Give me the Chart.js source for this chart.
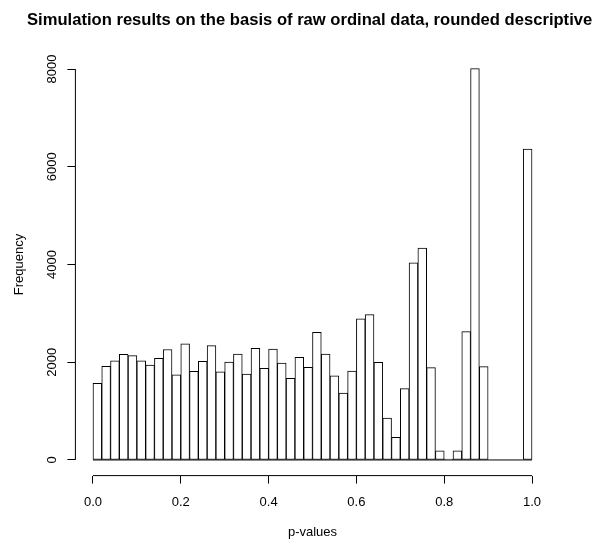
<!DOCTYPE html>
<html>
<head>
<meta charset="utf-8">
<title>Simulation results</title>
<script src="https://cdn.jsdelivr.net/npm/chart.js@4"></script>
<style>
  body { margin: 0; background: #fff; }
  canvas { display: block; }
</style>
</head>
<body>
<canvas id="histChart" width="592" height="542"></canvas>
<script>
// Titolo e assi
const chartTitle = "Simulation results on the basis of raw ordinal data, rounded descriptive";
const xTitle = "p-values";
const yTitle = "Frequency";

// Inizio di ogni classe (larghezza 0.02)
const binStarts = [
    0.00, 0.02, 0.04, 0.06, 0.08, 0.10, 0.12, 0.14, 0.16, 0.18,
    0.20, 0.22, 0.24, 0.26, 0.28, 0.30, 0.32, 0.34, 0.36, 0.38,
    0.40, 0.42, 0.44, 0.46, 0.48, 0.50, 0.52, 0.54, 0.56, 0.58,
    0.60, 0.62, 0.64, 0.66, 0.68, 0.70, 0.72, 0.74, 0.76, 0.78,
    0.80, 0.82, 0.84, 0.86, 0.88, 0.90, 0.92, 0.94, 0.96, 0.98
];
const binWidth = 0.02;

// Frequenze
const counts = [
    1570, 1915, 2030, 2160, 2135, 2030, 1940, 2080, 2260, 1740,
    2375, 1815, 2020, 2340, 1805, 2005, 2165, 1760, 2285, 1875,
    2270, 1985, 1670, 2100, 1895, 2610, 2165, 1720, 1370, 1820,
    2890, 2975, 2000, 855, 465, 1460, 4035, 4335, 1890, 185,
    20, 185, 2625, 8010, 1910, 0, 0, 0, 0, 6360
];

const xTicks = [0, 0.2, 0.4, 0.6, 0.8, 1.0];
const yTicks = [0, 2000, 4000, 6000, 8000];

const font = { family: "'Liberation Sans', Arial, sans-serif", size: 13 };

// Linee degli assi in stile R (solo tra il primo e l'ultimo tick)
const rAxes = {
    id: "rAxes",
    afterDraw(chart) {
        const ctx = chart.ctx;
        const x = chart.scales.x, y = chart.scales.y;
        ctx.save();
        ctx.strokeStyle = "#000";
        ctx.lineWidth = 1;
        ctx.beginPath();
        ctx.moveTo(x.getPixelForValue(xTicks[0]), x.top);
        ctx.lineTo(x.getPixelForValue(xTicks[xTicks.length - 1]), x.top);
        ctx.moveTo(y.right, y.getPixelForValue(yTicks[0]));
        ctx.lineTo(y.right, y.getPixelForValue(yTicks[yTicks.length - 1]));
        // linea di base sotto le barre
        ctx.moveTo(x.getPixelForValue(binStarts[0]), y.getPixelForValue(0));
        ctx.lineTo(x.getPixelForValue(binStarts[binStarts.length - 1] + binWidth), y.getPixelForValue(0));
        ctx.stroke();

        ctx.fillStyle = "#000";
        ctx.font = "bold 16.6px 'Liberation Sans', Arial, sans-serif";
        ctx.textAlign = "left";
        ctx.textBaseline = "alphabetic";
        ctx.fillText(chartTitle, 27, 25);
        ctx.restore();
    }
};

new Chart(document.getElementById("histChart"), {
    type: "bar",
    data: {
        datasets: [{
            data: binStarts.map((b, i) => ({ x: b + binWidth / 2, y: counts[i] })),
            backgroundColor: "#ffffff",
            borderColor: "#000000",
            borderWidth: 1,
            borderSkipped: false,
            barPercentage: 1,
            categoryPercentage: 1
        }]
    },
    options: {
        responsive: false,
        animation: false,
        layout: { padding: { top: 53.4, right: 42.4, left: 0, bottom: 0 } },
        plugins: { legend: { display: false }, tooltip: { enabled: false } },
        scales: {
            x: {
                type: "linear",
                offset: false,
                min: -0.04,
                max: 1.04,
                afterBuildTicks: s => { s.ticks = xTicks.map(v => ({ value: v })); },
                afterFit: s => { s.height = 66.4; },
                grid: { offset: false, drawOnChartArea: false, drawTicks: true, tickLength: 8, color: "#000" },
                border: { display: false },
                ticks: {
                    font: font, color: "#000", padding: 11,
                    maxRotation: 0, autoSkip: false,
                    callback: v => v.toFixed(1)
                },
                title: { display: true, text: xTitle, font: font, color: "#000", padding: { top: 0, bottom: 2.2 } }
            },
            y: {
                min: -320,
                max: 8320,
                afterBuildTicks: s => { s.ticks = yTicks.map(v => ({ value: v })); },
                afterFit: s => { s.width = 75.4; },
                grid: { drawOnChartArea: false, drawTicks: true, tickLength: 8, color: "#000" },
                border: { display: false },
                ticks: {
                    font: font, color: "#000", padding: 1,
                    minRotation: 90, maxRotation: 90, crossAlign: "center",
                    callback: v => String(v)
                },
                title: { display: true, text: yTitle, font: font, color: "#000", padding: { top: 11.7, bottom: 0 } }
            }
        }
    },
    plugins: [rAxes]
});
</script>
</body>
</html>
